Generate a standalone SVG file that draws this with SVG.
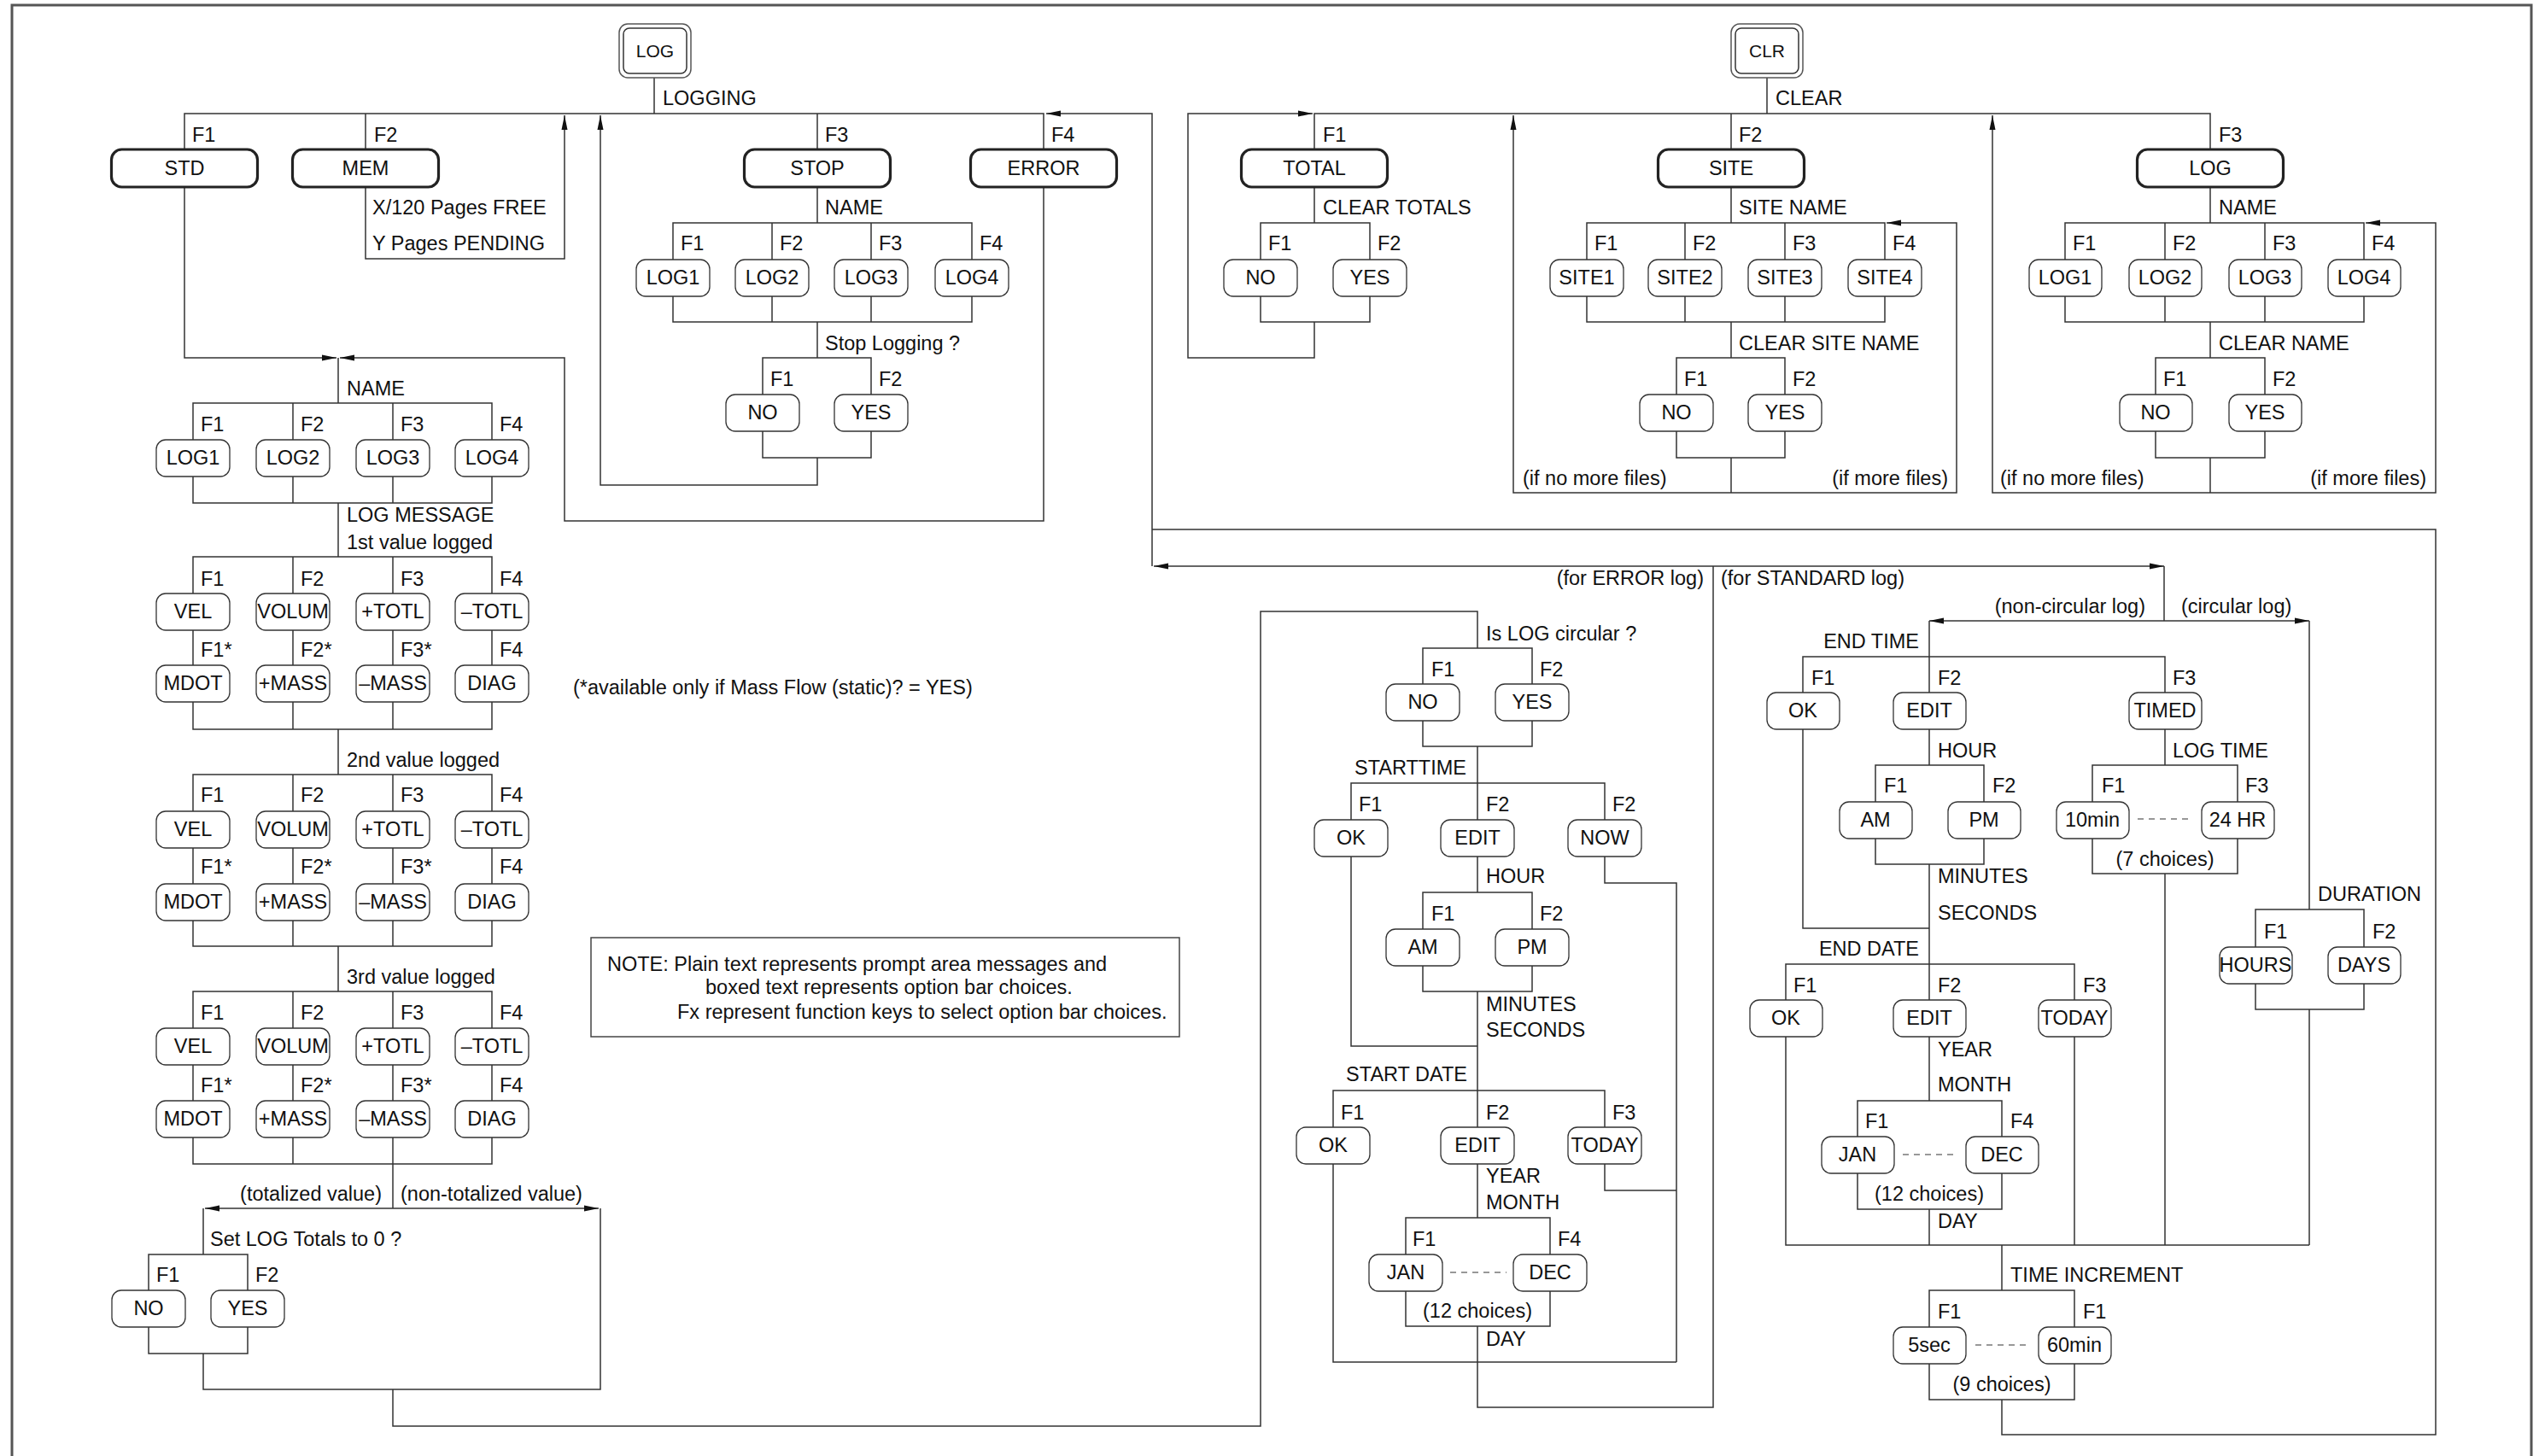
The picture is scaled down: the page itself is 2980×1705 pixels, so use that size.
<svg xmlns="http://www.w3.org/2000/svg" width="2980" height="1705" viewBox="0 0 2980 1705">
<style>
text{font-family:"Liberation Sans",Arial,sans-serif;font-size:23.5px;fill:#111}
.c{text-anchor:middle}
.r{text-anchor:end}
.k{font-size:21px}
.ln{fill:none;stroke:#333;stroke-width:1.5}
.ar{fill:none;stroke:#333;stroke-width:1.5;marker-end:url(#ah)}
.dl{fill:none;stroke:#777;stroke-width:1.4;stroke-dasharray:7 6}
.bx{fill:#fff;stroke:#333;stroke-width:1.3}
.bb{fill:#fff;stroke:#222;stroke-width:3.2}
.ko{fill:#fff;stroke:#555;stroke-width:1.5}
.ki{fill:none;stroke:#333;stroke-width:1.5}
.nt{fill:#fff;stroke:#444;stroke-width:1.5}
</style>
<defs>
<marker id="ah" markerUnits="userSpaceOnUse" markerWidth="18" markerHeight="8" refX="17" refY="4" orient="auto"><path d="M0,0.5 L17,4 L0,7.5 z" fill="#111"/></marker>
</defs>
<rect width="2980" height="1705" fill="#fff"/>
<path d="M14,1705 V6 H2964 V1705" fill="none" stroke="#555" stroke-width="3"/>

<g id="connectors">
<!-- LOG key section -->
<path class="ln" d="M766,91 V133 M216,175 V133 H1222 V175 M428,133 V175 M957,133 V175"/>
<path class="ar" d="M1349,663 V133 H1225"/>
<path class="ar" d="M428,219 V303 H661 V135"/>
<path class="ln" d="M957,219 V261 M788,304 V261 H1138 V304 M904,261 V304 M1020,261 V304 M788,346 V377 H1138 V346 M904,346 V377 M1020,346 V377 M957,377 V419 M893,462 V419 H1020 V462 M893,504 V536 H1020 V504"/>
<path class="ar" d="M957,536 V568 H703 V135"/>
<path class="ar" d="M1222,219 V610 H661 V419 H398"/>
<path class="ar" d="M216,219 V419 H394"/>
<path class="ln" d="M396,419 V472 M226,515 V472 H576 V515 M343,472 V515 M460,472 V515 M226,557 V589 H576 V557 M343,557 V589 M460,557 V589 M396,589 V652"/>
<path class="ln" d="M226,695 V652 H576 V695 M343,652 V695 M460,652 V695 M226,737 V779 M343,737 V779 M460,737 V779 M576,737 V779 M226,821 V854 H576 V821 M343,821 V854 M460,821 V854 M396,854 V907"/>
<path class="ln" d="M226,950 V907 H576 V950 M343,907 V950 M460,907 V950 M226,992 V1035 M343,992 V1035 M460,992 V1035 M576,992 V1035 M226,1077 V1108 H576 V1077 M343,1077 V1108 M460,1077 V1108 M396,1108 V1161"/>
<path class="ln" d="M226,1204 V1161 H576 V1204 M343,1161 V1204 M460,1161 V1204 M226,1246 V1289 M343,1246 V1289 M460,1246 V1289 M576,1246 V1289 M226,1331 V1363 H576 V1331 M343,1331 V1363 M460,1331 V1363 M460,1363 V1415"/>
<path class="ar" d="M460,1415 H240"/>
<path class="ar" d="M460,1415 H701"/>
<path class="ln" d="M238,1415 V1469 M174,1511 V1469 H290 V1511 M174,1553 V1585 H290 V1553 M238,1585 V1627 H703 V1415 M460,1627 V1670 H1476 V716 H1730 V759"/>
<!-- ERROR log tree -->
<path class="ln" d="M1666,801 V759 H1794 V801 M1666,843 V874 H1794 V843 M1730,874 V917 M1582,960 V917 H1879 V960 M1730,917 V960"/>
<path class="ln" d="M1582,1002 V1225 H1730 M1730,1002 V1045 M1666,1088 V1045 H1794 V1088 M1666,1130 V1161 H1794 V1130 M1730,1161 V1277 M1879,1002 V1034 H1963 V1595"/>
<path class="ln" d="M1561,1320 V1277 H1879 V1320 M1730,1277 V1320 M1561,1362 V1595 H1963 M1730,1362 V1426 M1646,1469 V1426 H1815 V1469 M1646,1511 V1553 H1815 V1511 M1730,1553 V1648 H2006 V663 M1879,1362 V1394 H1963"/>
<path class="dl" d="M1698,1490 H1764"/>
<path class="ar" d="M2006,663 H1351"/>
<path class="ar" d="M2006,663 H2534"/>
<path class="ln" d="M2534,663 V727"/>
<path class="ar" d="M2534,727 H2259"/>
<path class="ar" d="M2534,727 H2704"/>
<!-- STANDARD log tree -->
<path class="ln" d="M2259,727 V769 M2111,811 V769 H2535 V811 M2259,769 V811 M2111,853 V1087 H2259 M2259,853 V896 M2196,939 V896 H2323 V939 M2196,981 V1012 H2323 V981 M2259,1012 V1129"/>
<path class="ln" d="M2535,853 V896 M2450,939 V896 H2620 V939 M2450,981 V1023 H2620 V981 M2535,1023 V1458"/>
<path class="dl" d="M2503,959 H2568"/>
<path class="ln" d="M2091,1171 V1129 H2429 V1171 M2259,1129 V1171 M2091,1213 V1458 H2704 M2259,1213 V1289 M2175,1331 V1289 H2344 V1331 M2175,1373 V1416 H2344 V1373 M2259,1416 V1458 M2429,1213 V1458"/>
<path class="dl" d="M2228,1352 H2292"/>
<path class="ln" d="M2704,727 V1065 M2641,1109 V1065 H2768 V1109 M2641,1151 V1182 H2768 V1151 M2704,1182 V1458"/>
<path class="ln" d="M2344,1458 V1511 M2259,1554 V1511 H2429 V1554 M2259,1596 V1639 H2429 V1596 M2344,1639 V1680 H2852 V620 H1349"/>
<path class="dl" d="M2313,1575 H2377"/>
<!-- CLR section -->
<path class="ln" d="M2069,91 V133 M1539,175 V133 H2588 V175 M2027,133 V175"/>
<path class="ln" d="M1539,219 V261 M1476,304 V261 H1604 V304 M1476,346 V377 H1604 V346"/>
<path class="ar" d="M1539,377 V419 H1391 V133 H1537"/>
<path class="ln" d="M2027,219 V261 M1858,304 V261 H2207 V304 M1973,261 V304 M2090,261 V304 M1858,346 V377 H2207 V346 M1973,346 V377 M2090,346 V377 M2027,377 V419 M1963,462 V419 H2090 V462 M1963,504 V536 H2090 V504 M2027,536 V577"/>
<path class="ar" d="M2027,577 H1772 V135"/>
<path class="ar" d="M2027,577 H2291 V261 H2209"/>
<path class="ln" d="M2588,219 V261 M2418,304 V261 H2768 V304 M2535,261 V304 M2652,261 V304 M2418,346 V377 H2768 V346 M2535,346 V377 M2652,346 V377 M2588,377 V419 M2524,462 V419 H2652 V462 M2524,504 V536 H2652 V504 M2588,536 V577"/>
<path class="ar" d="M2588,577 H2333 V135"/>
<path class="ar" d="M2588,577 H2852 V261 H2770"/>
</g>

<g id="keys">
<g id="key-log"><rect class="ko" x="725" y="28" width="84" height="63" rx="10"/><rect class="ki" x="730" y="33" width="74" height="53" rx="7"/><text class="c k" x="767" y="67">LOG</text></g>
<g id="key-clr"><rect class="ko" x="2027" y="28" width="84" height="63" rx="10"/><rect class="ki" x="2032" y="33" width="74" height="53" rx="7"/><text class="c k" x="2069" y="67">CLR</text></g>
</g>

<g id="menu-nodes">
<g id="n-std"><rect class="bb" x="130.5" y="175" width="171" height="44" rx="12"/><text class="c" x="216" y="205">STD</text></g>
<g id="n-mem"><rect class="bb" x="342.5" y="175" width="171" height="44" rx="12"/><text class="c" x="428" y="205">MEM</text></g>
<g id="n-stop"><rect class="bb" x="871.5" y="175" width="171" height="44" rx="12"/><text class="c" x="957" y="205">STOP</text></g>
<g id="n-error"><rect class="bb" x="1136.5" y="175" width="171" height="44" rx="12"/><text class="c" x="1222" y="205">ERROR</text></g>
<g id="n-total"><rect class="bb" x="1453.5" y="175" width="171" height="44" rx="12"/><text class="c" x="1539" y="205">TOTAL</text></g>
<g id="n-site"><rect class="bb" x="1941.5" y="175" width="171" height="44" rx="12"/><text class="c" x="2027" y="205">SITE</text></g>
<g id="n-clrlog"><rect class="bb" x="2502.5" y="175" width="171" height="44" rx="12"/><text class="c" x="2588" y="205">LOG</text></g>
</g>

<g id="option-nodes">
<!-- STOP tree -->
<g id="s-log1"><rect class="bx" x="745" y="304" width="86" height="43" rx="11"/><text class="c" x="788" y="333">LOG1</text></g>
<g id="s-log2"><rect class="bx" x="861" y="304" width="86" height="43" rx="11"/><text class="c" x="904" y="333">LOG2</text></g>
<g id="s-log3"><rect class="bx" x="977" y="304" width="86" height="43" rx="11"/><text class="c" x="1020" y="333">LOG3</text></g>
<g id="s-log4"><rect class="bx" x="1095" y="304" width="86" height="43" rx="11"/><text class="c" x="1138" y="333">LOG4</text></g>
<g id="s-no"><rect class="bx" x="850" y="462" width="86" height="43" rx="11"/><text class="c" x="893" y="491">NO</text></g>
<g id="s-yes"><rect class="bx" x="977" y="462" width="86" height="43" rx="11"/><text class="c" x="1020" y="491">YES</text></g>
<!-- left NAME -->
<g id="l-log1"><rect class="bx" x="183" y="515" width="86" height="43" rx="11"/><text class="c" x="226" y="544">LOG1</text></g>
<g id="l-log2"><rect class="bx" x="300" y="515" width="86" height="43" rx="11"/><text class="c" x="343" y="544">LOG2</text></g>
<g id="l-log3"><rect class="bx" x="417" y="515" width="86" height="43" rx="11"/><text class="c" x="460" y="544">LOG3</text></g>
<g id="l-log4"><rect class="bx" x="533" y="515" width="86" height="43" rx="11"/><text class="c" x="576" y="544">LOG4</text></g>
<!-- value 1 -->
<g id="v1-vel"><rect class="bx" x="183" y="695" width="86" height="43" rx="11"/><text class="c" x="226" y="724">VEL</text></g>
<g id="v1-volum"><rect class="bx" x="300" y="695" width="86" height="43" rx="11"/><text class="c" x="343" y="724">VOLUM</text></g>
<g id="v1-ptotl"><rect class="bx" x="417" y="695" width="86" height="43" rx="11"/><text class="c" x="460" y="724">+TOTL</text></g>
<g id="v1-mtotl"><rect class="bx" x="533" y="695" width="86" height="43" rx="11"/><text class="c" x="576" y="724">–TOTL</text></g>
<g id="v1-mdot"><rect class="bx" x="183" y="779" width="86" height="43" rx="11"/><text class="c" x="226" y="808">MDOT</text></g>
<g id="v1-pmass"><rect class="bx" x="300" y="779" width="86" height="43" rx="11"/><text class="c" x="343" y="808">+MASS</text></g>
<g id="v1-mmass"><rect class="bx" x="417" y="779" width="86" height="43" rx="11"/><text class="c" x="460" y="808">–MASS</text></g>
<g id="v1-diag"><rect class="bx" x="533" y="779" width="86" height="43" rx="11"/><text class="c" x="576" y="808">DIAG</text></g>
<!-- value 2 -->
<g id="v2-vel"><rect class="bx" x="183" y="950" width="86" height="43" rx="11"/><text class="c" x="226" y="979">VEL</text></g>
<g id="v2-volum"><rect class="bx" x="300" y="950" width="86" height="43" rx="11"/><text class="c" x="343" y="979">VOLUM</text></g>
<g id="v2-ptotl"><rect class="bx" x="417" y="950" width="86" height="43" rx="11"/><text class="c" x="460" y="979">+TOTL</text></g>
<g id="v2-mtotl"><rect class="bx" x="533" y="950" width="86" height="43" rx="11"/><text class="c" x="576" y="979">–TOTL</text></g>
<g id="v2-mdot"><rect class="bx" x="183" y="1035" width="86" height="43" rx="11"/><text class="c" x="226" y="1064">MDOT</text></g>
<g id="v2-pmass"><rect class="bx" x="300" y="1035" width="86" height="43" rx="11"/><text class="c" x="343" y="1064">+MASS</text></g>
<g id="v2-mmass"><rect class="bx" x="417" y="1035" width="86" height="43" rx="11"/><text class="c" x="460" y="1064">–MASS</text></g>
<g id="v2-diag"><rect class="bx" x="533" y="1035" width="86" height="43" rx="11"/><text class="c" x="576" y="1064">DIAG</text></g>
<!-- value 3 -->
<g id="v3-vel"><rect class="bx" x="183" y="1204" width="86" height="43" rx="11"/><text class="c" x="226" y="1233">VEL</text></g>
<g id="v3-volum"><rect class="bx" x="300" y="1204" width="86" height="43" rx="11"/><text class="c" x="343" y="1233">VOLUM</text></g>
<g id="v3-ptotl"><rect class="bx" x="417" y="1204" width="86" height="43" rx="11"/><text class="c" x="460" y="1233">+TOTL</text></g>
<g id="v3-mtotl"><rect class="bx" x="533" y="1204" width="86" height="43" rx="11"/><text class="c" x="576" y="1233">–TOTL</text></g>
<g id="v3-mdot"><rect class="bx" x="183" y="1289" width="86" height="43" rx="11"/><text class="c" x="226" y="1318">MDOT</text></g>
<g id="v3-pmass"><rect class="bx" x="300" y="1289" width="86" height="43" rx="11"/><text class="c" x="343" y="1318">+MASS</text></g>
<g id="v3-mmass"><rect class="bx" x="417" y="1289" width="86" height="43" rx="11"/><text class="c" x="460" y="1318">–MASS</text></g>
<g id="v3-diag"><rect class="bx" x="533" y="1289" width="86" height="43" rx="11"/><text class="c" x="576" y="1318">DIAG</text></g>
<g id="t-no"><rect class="bx" x="131" y="1511" width="86" height="43" rx="11"/><text class="c" x="174" y="1540">NO</text></g>
<g id="t-yes"><rect class="bx" x="247" y="1511" width="86" height="43" rx="11"/><text class="c" x="290" y="1540">YES</text></g>
<!-- ERROR log tree -->
<g id="e-no"><rect class="bx" x="1623" y="801" width="86" height="43" rx="11"/><text class="c" x="1666" y="830">NO</text></g>
<g id="e-yes"><rect class="bx" x="1751" y="801" width="86" height="43" rx="11"/><text class="c" x="1794" y="830">YES</text></g>
<g id="e-ok1"><rect class="bx" x="1539" y="960" width="86" height="43" rx="11"/><text class="c" x="1582" y="989">OK</text></g>
<g id="e-edit1"><rect class="bx" x="1687" y="960" width="86" height="43" rx="11"/><text class="c" x="1730" y="989">EDIT</text></g>
<g id="e-now"><rect class="bx" x="1836" y="960" width="86" height="43" rx="11"/><text class="c" x="1879" y="989">NOW</text></g>
<g id="e-am"><rect class="bx" x="1623" y="1088" width="86" height="43" rx="11"/><text class="c" x="1666" y="1117">AM</text></g>
<g id="e-pm"><rect class="bx" x="1751" y="1088" width="86" height="43" rx="11"/><text class="c" x="1794" y="1117">PM</text></g>
<g id="e-ok2"><rect class="bx" x="1518" y="1320" width="86" height="43" rx="11"/><text class="c" x="1561" y="1349">OK</text></g>
<g id="e-edit2"><rect class="bx" x="1687" y="1320" width="86" height="43" rx="11"/><text class="c" x="1730" y="1349">EDIT</text></g>
<g id="e-today"><rect class="bx" x="1836" y="1320" width="86" height="43" rx="11"/><text class="c" x="1879" y="1349">TODAY</text></g>
<g id="e-jan"><rect class="bx" x="1603" y="1469" width="86" height="43" rx="11"/><text class="c" x="1646" y="1498">JAN</text></g>
<g id="e-dec"><rect class="bx" x="1772" y="1469" width="86" height="43" rx="11"/><text class="c" x="1815" y="1498">DEC</text></g>
<!-- STANDARD log tree -->
<g id="d-ok1"><rect class="bx" x="2069" y="811" width="85" height="43" rx="11"/><text class="c" x="2111" y="840">OK</text></g>
<g id="d-edit1"><rect class="bx" x="2217" y="811" width="85" height="43" rx="11"/><text class="c" x="2259" y="840">EDIT</text></g>
<g id="d-timed"><rect class="bx" x="2493" y="811" width="85" height="43" rx="11"/><text class="c" x="2535" y="840">TIMED</text></g>
<g id="d-am"><rect class="bx" x="2154" y="939" width="85" height="43" rx="11"/><text class="c" x="2196" y="968">AM</text></g>
<g id="d-pm"><rect class="bx" x="2281" y="939" width="85" height="43" rx="11"/><text class="c" x="2323" y="968">PM</text></g>
<g id="d-10min"><rect class="bx" x="2408" y="939" width="85" height="43" rx="11"/><text class="c" x="2450" y="968">10min</text></g>
<g id="d-24hr"><rect class="bx" x="2578" y="939" width="85" height="43" rx="11"/><text class="c" x="2620" y="968">24 HR</text></g>
<g id="d-hours"><rect class="bx" x="2599" y="1109" width="85" height="43" rx="11"/><text class="c" x="2641" y="1138">HOURS</text></g>
<g id="d-days"><rect class="bx" x="2726" y="1109" width="85" height="43" rx="11"/><text class="c" x="2768" y="1138">DAYS</text></g>
<g id="d-ok2"><rect class="bx" x="2049" y="1171" width="85" height="43" rx="11"/><text class="c" x="2091" y="1200">OK</text></g>
<g id="d-edit2"><rect class="bx" x="2217" y="1171" width="85" height="43" rx="11"/><text class="c" x="2259" y="1200">EDIT</text></g>
<g id="d-today"><rect class="bx" x="2387" y="1171" width="85" height="43" rx="11"/><text class="c" x="2429" y="1200">TODAY</text></g>
<g id="d-jan"><rect class="bx" x="2133" y="1331" width="85" height="43" rx="11"/><text class="c" x="2175" y="1360">JAN</text></g>
<g id="d-dec"><rect class="bx" x="2302" y="1331" width="85" height="43" rx="11"/><text class="c" x="2344" y="1360">DEC</text></g>
<g id="d-5sec"><rect class="bx" x="2217" y="1554" width="85" height="43" rx="11"/><text class="c" x="2259" y="1583">5sec</text></g>
<g id="d-60min"><rect class="bx" x="2387" y="1554" width="85" height="43" rx="11"/><text class="c" x="2429" y="1583">60min</text></g>
<!-- CLR tree -->
<g id="c-no1"><rect class="bx" x="1433" y="304" width="86" height="43" rx="11"/><text class="c" x="1476" y="333">NO</text></g>
<g id="c-yes1"><rect class="bx" x="1561" y="304" width="86" height="43" rx="11"/><text class="c" x="1604" y="333">YES</text></g>
<g id="c-site1"><rect class="bx" x="1815" y="304" width="86" height="43" rx="11"/><text class="c" x="1858" y="333">SITE1</text></g>
<g id="c-site2"><rect class="bx" x="1930" y="304" width="86" height="43" rx="11"/><text class="c" x="1973" y="333">SITE2</text></g>
<g id="c-site3"><rect class="bx" x="2047" y="304" width="86" height="43" rx="11"/><text class="c" x="2090" y="333">SITE3</text></g>
<g id="c-site4"><rect class="bx" x="2164" y="304" width="86" height="43" rx="11"/><text class="c" x="2207" y="333">SITE4</text></g>
<g id="c-no2"><rect class="bx" x="1920" y="462" width="86" height="43" rx="11"/><text class="c" x="1963" y="491">NO</text></g>
<g id="c-yes2"><rect class="bx" x="2047" y="462" width="86" height="43" rx="11"/><text class="c" x="2090" y="491">YES</text></g>
<g id="c-log1"><rect class="bx" x="2376" y="304" width="85" height="43" rx="11"/><text class="c" x="2418" y="333">LOG1</text></g>
<g id="c-log2"><rect class="bx" x="2493" y="304" width="85" height="43" rx="11"/><text class="c" x="2535" y="333">LOG2</text></g>
<g id="c-log3"><rect class="bx" x="2610" y="304" width="85" height="43" rx="11"/><text class="c" x="2652" y="333">LOG3</text></g>
<g id="c-log4"><rect class="bx" x="2726" y="304" width="85" height="43" rx="11"/><text class="c" x="2768" y="333">LOG4</text></g>
<g id="c-no3"><rect class="bx" x="2482" y="462" width="85" height="43" rx="11"/><text class="c" x="2524" y="491">NO</text></g>
<g id="c-yes3"><rect class="bx" x="2610" y="462" width="85" height="43" rx="11"/><text class="c" x="2652" y="491">YES</text></g>
</g>

<g id="note">
<rect class="nt" x="692" y="1098" width="689" height="116"/>
<text x="711" y="1137">NOTE: Plain text represents prompt area messages and</text>
<text x="826" y="1164">boxed text represents option bar choices.</text>
<text x="793" y="1193">Fx represent function keys to select option bar choices.</text>
</g>

<g id="labels">
<text x="776" y="123">LOGGING</text>
<text x="225" y="166">F1</text><text x="438" y="166">F2</text><text x="966" y="166">F3</text><text x="1231" y="166">F4</text>
<text x="436" y="251">X/120 Pages FREE</text>
<text x="436" y="293">Y Pages PENDING</text>
<text x="966" y="251">NAME</text>
<text x="797" y="293">F1</text><text x="913" y="293">F2</text><text x="1029" y="293">F3</text><text x="1147" y="293">F4</text>
<text x="966" y="410">Stop Logging ?</text>
<text x="902" y="452">F1</text><text x="1029" y="452">F2</text>
<text x="406" y="463">NAME</text>
<text x="235" y="505">F1</text><text x="352" y="505">F2</text><text x="469" y="505">F3</text><text x="585" y="505">F4</text>
<text x="406" y="611">LOG MESSAGE</text>
<text x="406" y="643">1st value logged</text>
<text x="235" y="686">F1</text><text x="352" y="686">F2</text><text x="469" y="686">F3</text><text x="585" y="686">F4</text>
<text x="235" y="769">F1*</text><text x="352" y="769">F2*</text><text x="469" y="769">F3*</text><text x="585" y="769">F4</text>
<text x="406" y="898">2nd value logged</text>
<text x="235" y="939">F1</text><text x="352" y="939">F2</text><text x="469" y="939">F3</text><text x="585" y="939">F4</text>
<text x="235" y="1023">F1*</text><text x="352" y="1023">F2*</text><text x="469" y="1023">F3*</text><text x="585" y="1023">F4</text>
<text x="406" y="1152">3rd value logged</text>
<text x="235" y="1194">F1</text><text x="352" y="1194">F2</text><text x="469" y="1194">F3</text><text x="585" y="1194">F4</text>
<text x="235" y="1279">F1*</text><text x="352" y="1279">F2*</text><text x="469" y="1279">F3*</text><text x="585" y="1279">F4</text>
<text class="r" x="447" y="1406">(totalized value)</text>
<text x="469" y="1406">(non-totalized value)</text>
<text x="246" y="1459">Set LOG Totals to 0 ?</text>
<text x="183" y="1501">F1</text><text x="299" y="1501">F2</text>
<text x="671" y="813">(*available only if Mass Flow (static)? = YES)</text>

<text class="r" x="1995" y="685">(for ERROR log)</text>
<text x="2015" y="685">(for STANDARD log)</text>
<text x="1740" y="750">Is LOG circular ?</text>
<text x="1676" y="792">F1</text><text x="1803" y="792">F2</text>
<text class="r" x="1717" y="907">STARTTIME</text>
<text x="1591" y="950">F1</text><text x="1740" y="950">F2</text><text x="1888" y="950">F2</text>
<text x="1740" y="1034">HOUR</text>
<text x="1676" y="1078">F1</text><text x="1803" y="1078">F2</text>
<text x="1740" y="1184">MINUTES</text>
<text x="1740" y="1214">SECONDS</text>
<text class="r" x="1718" y="1266">START DATE</text>
<text x="1570" y="1311">F1</text><text x="1740" y="1311">F2</text><text x="1888" y="1311">F3</text>
<text x="1740" y="1385">YEAR</text>
<text x="1740" y="1416">MONTH</text>
<text x="1654" y="1459">F1</text><text x="1824" y="1459">F4</text>
<text class="c" x="1730" y="1543">(12 choices)</text>
<text x="1740" y="1576">DAY</text>

<text class="r" x="2512" y="718">(non-circular log)</text>
<text x="2554" y="718">(circular log)</text>
<text class="r" x="2247" y="759">END TIME</text>
<text x="2121" y="802">F1</text><text x="2269" y="802">F2</text><text x="2544" y="802">F3</text>
<text x="2269" y="887">HOUR</text>
<text x="2544" y="887">LOG TIME</text>
<text x="2206" y="928">F1</text><text x="2333" y="928">F2</text><text x="2461" y="928">F1</text><text x="2629" y="928">F3</text>
<text class="c" x="2535" y="1014">(7 choices)</text>
<text x="2269" y="1034">MINUTES</text>
<text x="2269" y="1077">SECONDS</text>
<text x="2714" y="1055">DURATION</text>
<text x="2651" y="1099">F1</text><text x="2778" y="1099">F2</text>
<text class="r" x="2247" y="1119">END DATE</text>
<text x="2100" y="1162">F1</text><text x="2269" y="1162">F2</text><text x="2439" y="1162">F3</text>
<text x="2269" y="1237">YEAR</text>
<text x="2269" y="1278">MONTH</text>
<text x="2184" y="1321">F1</text><text x="2354" y="1321">F4</text>
<text class="c" x="2259" y="1406">(12 choices)</text>
<text x="2269" y="1438">DAY</text>
<text x="2354" y="1501">TIME INCREMENT</text>
<text x="2269" y="1544">F1</text><text x="2439" y="1544">F1</text>
<text class="c" x="2344" y="1629">(9 choices)</text>

<text x="2079" y="123">CLEAR</text>
<text x="1549" y="166">F1</text><text x="2036" y="166">F2</text><text x="2598" y="166">F3</text>
<text x="1549" y="251">CLEAR TOTALS</text>
<text x="2036" y="251">SITE NAME</text>
<text x="2598" y="251">NAME</text>
<text x="1485" y="293">F1</text><text x="1613" y="293">F2</text>
<text x="1867" y="293">F1</text><text x="1982" y="293">F2</text><text x="2099" y="293">F3</text><text x="2216" y="293">F4</text>
<text x="2427" y="293">F1</text><text x="2544" y="293">F2</text><text x="2661" y="293">F3</text><text x="2777" y="293">F4</text>
<text x="2036" y="410">CLEAR SITE NAME</text>
<text x="2598" y="410">CLEAR NAME</text>
<text x="1972" y="452">F1</text><text x="2099" y="452">F2</text>
<text x="2533" y="452">F1</text><text x="2661" y="452">F2</text>
<text x="1783" y="568">(if no more files)</text>
<text class="r" x="2281" y="568">(if more files)</text>
<text x="2342" y="568">(if no more files)</text>
<text class="r" x="2841" y="568">(if more files)</text>
</g>
</svg>
